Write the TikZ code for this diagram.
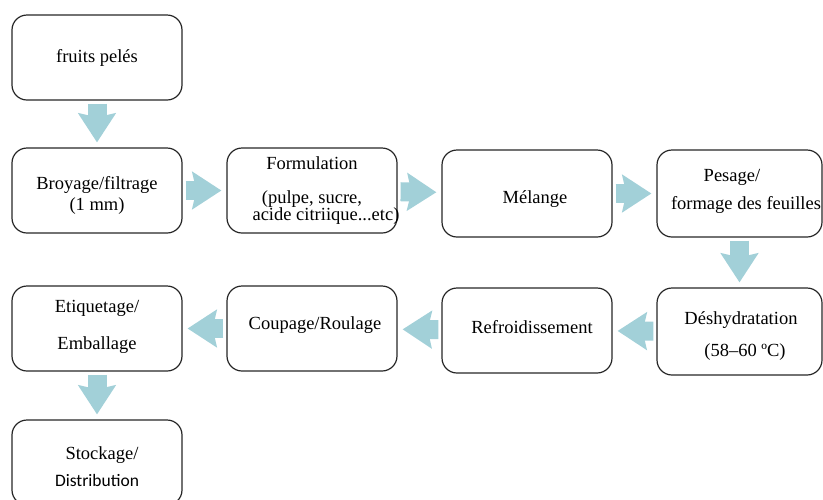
\documentclass[tikz,border=0pt]{standalone}
\usepackage{fontspec}
\setmainfont{Liberation Serif}
\newfontfamily\distfont{Carlito}
\usetikzlibrary{arrows.meta}
\definecolor{bleufleche}{RGB}{162,208,216}

\begin{document}
\begin{tikzpicture}[x=1pt,y=-1pt,
	etape/.style={draw=black!85, line width=1.2pt, rounded corners=15pt, minimum width=170pt, minimum height=85pt, inner sep=0pt, align=center, font=\fontsize{18.5}{21}\selectfont},
	fleche/.style={bleufleche, line width=19pt, -{Stealth[length=29pt,width=37pt,inset=4pt]}, shorten <=3pt, shorten >=5pt}]
	
	\clip (0,0) rectangle (823,499);
	
	\node[etape] (fruits) at (97,57.5) {fruits pelés};
	\node[etape] (broyage) at (97,190.5) {\\[2pt]Broyage/filtrage\\(1 mm)};
	\node[etape] (formulation) at (312,190.5) {Formulation\\[13pt](pulpe, sucre,\\[-4pt]acide citriique...etc)\hspace*{-28pt}};
	\node[etape, minimum height=87pt] (melange) at (527,193.5) {\\[2pt]\hspace*{16pt}Mélange};
	\node[etape, minimum width=165pt, minimum height=87pt] (pesage) at (739.5,193.5) {Pesage/\hspace*{15pt}\\[7pt]\hspace*{13pt}formage des feuilles\\[-13pt]};
	\node[etape, minimum width=165pt, minimum height=87pt] (deshydratation) at (739.5,331.5) {\\[1pt]\hspace*{3pt}Déshydratation\\[11pt]\hspace*{11pt}(58–60 ºC)};
	\node[etape] (refroidissement) at (527,330.5) {\hspace*{10pt}Refroidissement\\[-14pt]};
	\node[etape] (coupage) at (312,328.5) {\hspace*{6pt}Coupage/Roulage\\[-10pt]};
	\node[etape] (etiquetage) at (97,328.5) {Etiquetage/\\[16pt]Emballage\\[-14pt]};
	\node[etape] (stockage) at (97,462.5) {\\\hspace*{10pt}Stockage/\\[6pt]{\distfont\fontsize{17.5}{21}\selectfont Distribution}};
	
	\draw[fleche] (fruits) -- (broyage);
	\draw[fleche] (broyage) -- (formulation);
	\draw[fleche] (formulation) -- (melange);
	\draw[fleche] (melange) -- (pesage);
	\draw[fleche] (pesage) -- (deshydratation);
	\draw[fleche] (deshydratation) -- (refroidissement);
	\draw[fleche] (refroidissement) -- (coupage);
	\draw[fleche] (coupage) -- (etiquetage);
	\draw[fleche] (etiquetage) -- (stockage);
	
\end{tikzpicture}
\end{document}
